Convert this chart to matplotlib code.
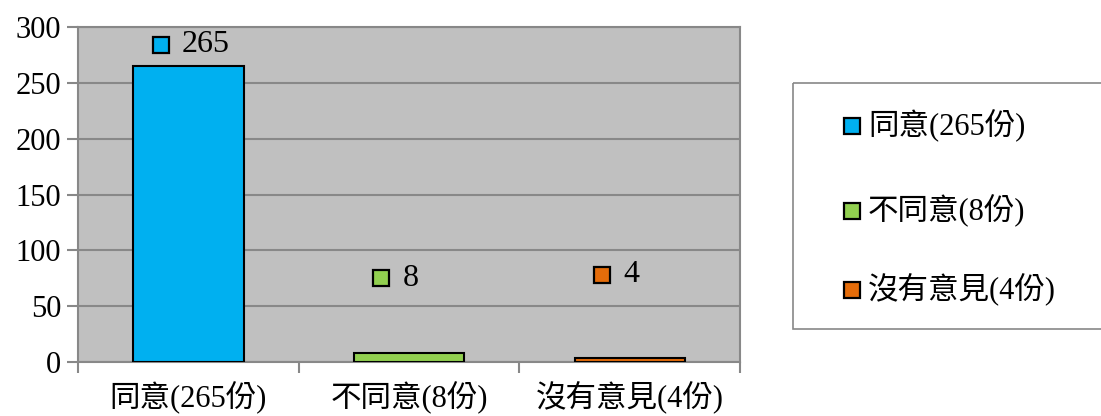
import matplotlib.pyplot as plt
from matplotlib.patches import Rectangle

plt.rcParams['font.family'] = ['Liberation Serif', 'Noto Sans CJK TC']

# 問卷結果
categories = ['同意(265份)', '不同意(8份)', '沒有意見(4份)']
counts = [265, 8, 4]
colors = ['#00B0F0', '#92D050', '#E46C0A']
label_y = [284, 75, 78]   # 數值標籤高度
yticks = [0, 50, 100, 150, 200, 250, 300]

fig = plt.figure(figsize=(11.01, 4.16), dpi=100)
W, H = 1101, 416
ax = fig.add_axes([78 / W, 1 - 362 / H, (740 - 78) / W, (362 - 27) / H])
ax.set_facecolor('#C0C0C0')

x = range(len(categories))
ax.bar(x, counts, width=0.5, color=colors, edgecolor='black', linewidth=1.5, zorder=3)

# 數值標籤(含圖例方塊)
for i, (v, c) in enumerate(zip(counts, colors)):
    ax.plot(i - 0.125, label_y[i], marker='s', markersize=11.5, color=c,
            markeredgecolor='black', markeredgewidth=1.6, zorder=4)
    ax.text(i - 0.03, label_y[i], str(v), fontsize=23, va='center', ha='left', zorder=4)

ax.set_xlim(-0.5, 2.5)
ax.set_ylim(0, 300)
ax.set_yticks(yticks)
ax.set_yticklabels([str(t) for t in yticks], fontsize=22)
ax.set_xticks(list(x))
ax.set_xticklabels(categories, fontsize=22)
ax.set_xticks([-0.5, 0.5, 1.5, 2.5], minor=True)
ax.tick_params(axis='x', which='major', length=0, pad=14)
ax.tick_params(axis='x', which='minor', length=8, width=1.5, color='#888888')
ax.tick_params(axis='y', length=8, width=1.5, color='#888888', pad=4)
ax.grid(axis='y', color='#888888', linewidth=1.5, zorder=0)
for s in ax.spines.values():
    s.set_color('#888888')
    s.set_linewidth(1.5)

# 圖例
lax = fig.add_axes([0, 0, 1, 1], facecolor='none')
lax.set_xlim(0, W)
lax.set_ylim(H, 0)
lax.axis('off')
lax.add_patch(Rectangle((793, 83), 330, 246, fill=False, edgecolor='#888888', linewidth=1.2))
for yy, c, name in zip([126, 211, 290], colors, categories):
    lax.plot(852, yy, marker='s', markersize=11, color=c,
             markeredgecolor='black', markeredgewidth=1.6)
    lax.text(868, yy, name, fontsize=22, va='center', ha='left')

fig.savefig('out.png', dpi=100)
